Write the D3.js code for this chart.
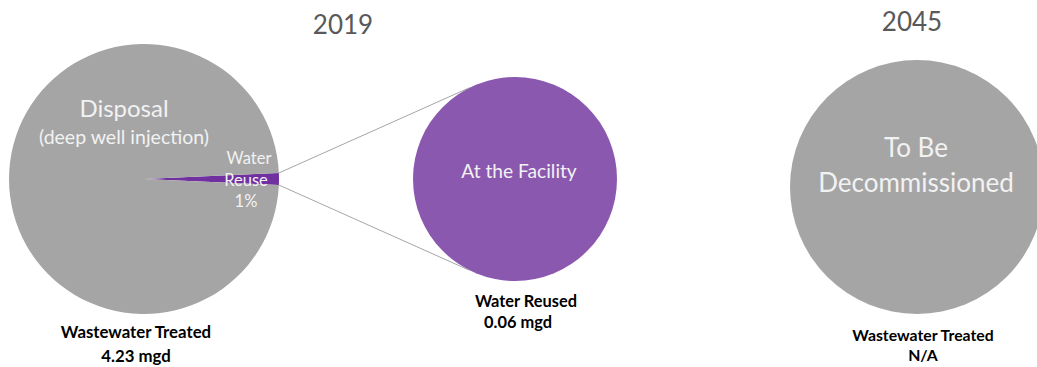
<!DOCTYPE html>
<html>
<head>
<meta charset="utf-8">
<script src="https://cdn.jsdelivr.net/npm/d3@7"></script>
<style>
  html, body { margin: 0; padding: 0; background: #fff; }
  svg { display: block; font-family: Lato, "Open Sans", sans-serif; }
</style>
</head>
<body>
<svg id="chart" width="1037" height="367"></svg>
<script>
// Wastewater treated in 2019, split into disposal and reuse (mgd)
const years = ["2019", "2045"];
const treatedCategories = ["Water Reuse", "Disposal"];
const treatedValues = [0.06, 4.17];
// Breakdown of the reused water (mgd)
const reuseCategories = ["At the Facility"];
const reuseValues = [0.06];
// 2045: the plant is retired, shown as a single placeholder share
const futureCategories = ["To Be Decommissioned"];
const futureShares = [1];
const futureTotalLabel = "N/A";

const svg = d3.select("#chart");
const white = "#f2f2f2";
const grey = "#a5a5a5";

const fmtMgd = d => d3.format(".2f")(d) + " mgd";
const fmtPct = d3.format(".0%");

// ---- 2019 main pie ----
const main = { cx: 144, cy: 179, r: 135 };
const total = d3.sum(treatedValues);
const reuseAngle = 2 * Math.PI * treatedValues[0] / total;
const start = Math.PI / 2 - reuseAngle / 2;   // reuse slice centred at 3 o'clock

const mainPie = d3.pie().sort(null).startAngle(start).endAngle(start + 2 * Math.PI);
const mainArcs = mainPie(treatedValues);
const arcMain = d3.arc().innerRadius(0).outerRadius(main.r);
const mainColors = d3.scaleOrdinal().domain(treatedCategories).range(["#7030a0", grey]);

const gMain = svg.append("g").attr("transform", `translate(${main.cx},${main.cy})`);
gMain.selectAll("path").data(mainArcs).join("path")
  .attr("d", arcMain)
  .attr("fill", (d, i) => mainColors(treatedCategories[i]));

// ---- 2019 secondary pie (reuse breakdown) ----
const sec = { cx: 515, cy: 179, r: 102 };
const secPie = d3.pie().sort(null);
const arcSec = d3.arc().innerRadius(0).outerRadius(sec.r);
const gSec = svg.append("g").attr("transform", `translate(${sec.cx},${sec.cy})`);
gSec.selectAll("path").data(secPie(reuseValues)).join("path")
  .attr("d", arcSec)
  .attr("fill", "#8b58b0");

// connector lines from the reuse slice edge to the secondary pie
const polar = (c, r, a) => [c.cx + r * Math.sin(a), c.cy - r * Math.cos(a)];
const spread = 26.5 * Math.PI / 180;
const connectors = [
  [polar(main, main.r, mainArcs[0].startAngle), polar(sec, sec.r, -spread)],
  [polar(main, main.r, mainArcs[0].endAngle), polar(sec, sec.r, Math.PI + spread)]
];
svg.append("g").selectAll("line").data(connectors).join("line")
  .attr("x1", d => d[0][0]).attr("y1", d => d[0][1])
  .attr("x2", d => d[1][0]).attr("y2", d => d[1][1])
  .attr("stroke", "#a6a6a6").attr("stroke-width", 1);

// ---- 2045 pie ----
const fut = { cx: 917, cy: 187, r: 127 };
const arcFut = d3.arc().innerRadius(0).outerRadius(fut.r);
svg.append("g").attr("transform", `translate(${fut.cx},${fut.cy})`)
  .selectAll("path").data(d3.pie().sort(null)(futureShares)).join("path")
  .attr("d", arcFut)
  .attr("fill", grey);

// ---- text ----
function label(x, y, text, size, fill, weight) {
  return svg.append("text")
    .attr("x", x).attr("y", y)
    .attr("text-anchor", "middle")
    .attr("font-size", size)
    .attr("font-weight", weight || "normal")
    .attr("fill", fill)
    .text(text);
}

// year titles
label(343, 34, years[0], 26, "#595959");
label(912, 31, years[1], 26, "#595959");

// main pie labels
label(124, 117, treatedCategories[1], 24, white);
label(124, 144, "(deep well injection)", 19.5, white);
label(249, 164, "Water", 16.5, white);
label(246, 186, "Reuse", 16.5, white);
label(246, 207, fmtPct(treatedValues[0] / total), 16.5, white);

label(136, 338, "Wastewater Treated", 16.8, "#000", "bold");
label(136, 362, fmtMgd(total), 16.8, "#000", "bold");

// secondary pie labels
label(519, 178, reuseCategories[0], 19.2, white);
label(526, 307, "Water Reused", 16.4, "#000", "bold");
label(518, 328, fmtMgd(d3.sum(reuseValues)), 16.4, "#000", "bold");

// 2045 labels
label(916, 157, "To Be", 26, white);
label(916, 192, "Decommissioned", 26, white);
label(923, 341, "Wastewater Treated", 15.8, "#000", "bold");
label(923, 361, futureTotalLabel, 15.8, "#000", "bold");
</script>
</body>
</html>
